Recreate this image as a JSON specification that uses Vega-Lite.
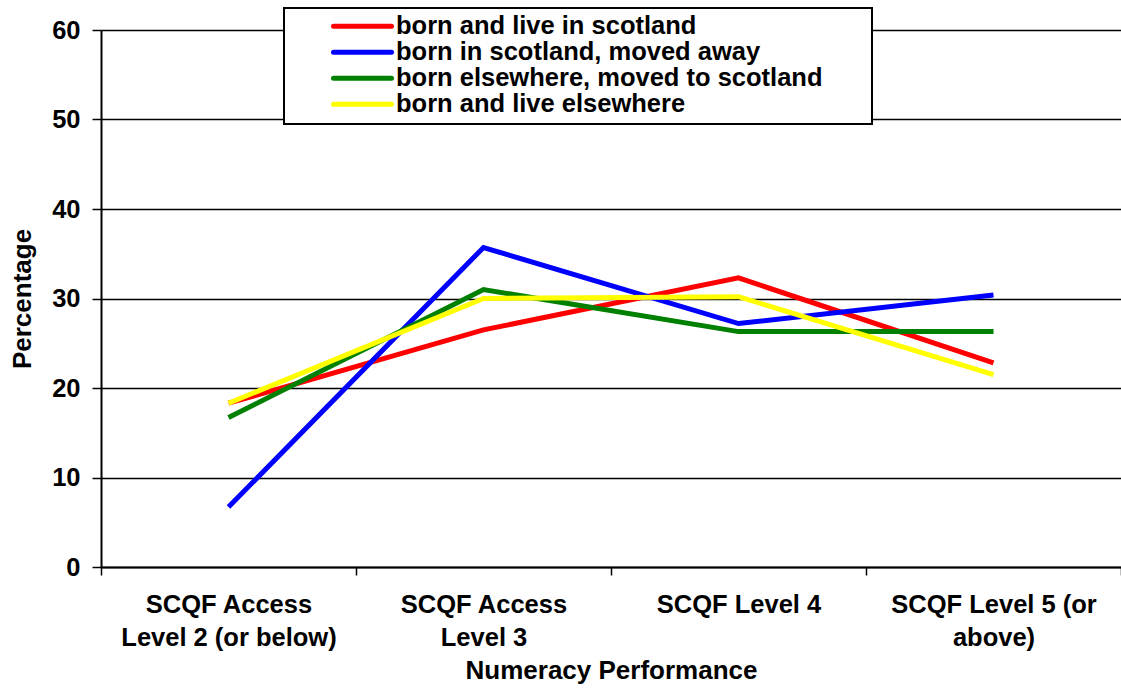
{
  "$schema": "https://vega.github.io/schema/vega-lite/v6.json",
  "width": 1020,
  "height": 537,
  "autosize": {"type": "none"},
  "padding": {"left": 101, "top": 30, "right": 0, "bottom": 121},
  "background": "white",
  "config": {
    "view": {"stroke": null},
    "font": "Liberation Sans",
    "axis": {"labelFont": "Liberation Sans", "titleFont": "Liberation Sans"}
  },
  "data": {
    "values": [
      {"level": "SCQF Access Level 2 (or below)", "group": "born and live in scotland", "pct": 18.3},
      {"level": "SCQF Access Level 3", "group": "born and live in scotland", "pct": 26.5},
      {"level": "SCQF Level 4", "group": "born and live in scotland", "pct": 32.3},
      {"level": "SCQF Level 5 (or above)", "group": "born and live in scotland", "pct": 22.8},
      {"level": "SCQF Access Level 2 (or below)", "group": "born in scotland, moved away", "pct": 6.7},
      {"level": "SCQF Access Level 3", "group": "born in scotland, moved away", "pct": 35.7},
      {"level": "SCQF Level 4", "group": "born in scotland, moved away", "pct": 27.2},
      {"level": "SCQF Level 5 (or above)", "group": "born in scotland, moved away", "pct": 30.4},
      {"level": "SCQF Access Level 2 (or below)", "group": "born elsewhere, moved to scotland", "pct": 16.7},
      {"level": "SCQF Access Level 3", "group": "born elsewhere, moved to scotland", "pct": 31.0},
      {"level": "SCQF Level 4", "group": "born elsewhere, moved to scotland", "pct": 26.3},
      {"level": "SCQF Level 5 (or above)", "group": "born elsewhere, moved to scotland", "pct": 26.3},
      {"level": "SCQF Access Level 2 (or below)", "group": "born and live elsewhere", "pct": 18.3},
      {"level": "SCQF Access Level 3", "group": "born and live elsewhere", "pct": 30.0},
      {"level": "SCQF Level 4", "group": "born and live elsewhere", "pct": 30.2},
      {"level": "SCQF Level 5 (or above)", "group": "born and live elsewhere", "pct": 21.5}
    ]
  },
  "mark": {"type": "line", "strokeWidth": 5},
  "encoding": {
    "x": {
      "field": "level",
      "type": "nominal",
      "sort": ["SCQF Access Level 2 (or below)", "SCQF Access Level 3", "SCQF Level 4", "SCQF Level 5 (or above)"],
      "scale": {"type": "band", "paddingInner": 0, "paddingOuter": 0},
      "axis": {
        "title": "Numeracy Performance",
        "titleFontSize": 26,
        "titleFontWeight": "bold",
        "titleColor": "black",
        "titlePadding": 6.5,
        "labelAngle": 0,
        "labelFontSize": 25.5,
        "labelFontWeight": "bold",
        "labelColor": "black",
        "labelPadding": 17,
        "labelLineHeight": 33.5,
        "labelLimit": 400,
        "labelExpr": "datum.value == 'SCQF Access Level 2 (or below)' ? ['SCQF Access', 'Level 2 (or below)'] : datum.value == 'SCQF Access Level 3' ? ['SCQF Access', 'Level 3'] : datum.value == 'SCQF Level 5 (or above)' ? ['SCQF Level 5 (or', 'above)'] : datum.value",
        "tickBand": "extent",
        "tickColor": "black",
        "tickSize": 8,
        "tickWidth": 1.5,
        "domainColor": "black",
        "domainWidth": 2,
        "grid": false
      }
    },
    "y": {
      "field": "pct",
      "type": "quantitative",
      "scale": {"domain": [0, 60], "nice": false},
      "axis": {
        "title": "Percentage",
        "titleFontSize": 26,
        "titleFontWeight": "bold",
        "titleColor": "black",
        "titlePadding": 16,
        "values": [0, 10, 20, 30, 40, 50, 60],
        "labelFontSize": 25.5,
        "labelFontWeight": "bold",
        "labelColor": "black",
        "labelPadding": 12,
        "tickColor": "black",
        "tickSize": 9,
        "tickWidth": 1.5,
        "domainColor": "black",
        "domainWidth": 2,
        "grid": true,
        "gridColor": "black",
        "gridWidth": 1.5,
        "gridOpacity": 1
      }
    },
    "color": {
      "field": "group",
      "type": "nominal",
      "sort": ["born and live in scotland", "born in scotland, moved away", "born elsewhere, moved to scotland", "born and live elsewhere"],
      "scale": {
        "domain": ["born and live in scotland", "born in scotland, moved away", "born elsewhere, moved to scotland", "born and live elsewhere"],
        "range": ["#FF0000", "#0000FF", "#008000", "#FFFF00"]
      },
      "legend": {
        "orient": "none",
        "legendX": 183,
        "legendY": -22,
        "title": "MM",
        "titleOrient": "right",
        "titleFontSize": 21,
        "titleColor": "white",
        "titlePadding": 8,
        "fillColor": "white",
        "strokeColor": "black",
        "padding": 6,
        "symbolOffset": 59.75,
        "symbolType": "M-2.9,0H2.9",
        "symbolStrokeWidth": 5,
        "symbolSize": 400,
        "labelOffset": 20.75,
        "labelFontSize": 25.5,
        "labelFontWeight": "bold",
        "labelColor": "black",
        "labelFont": "Liberation Sans",
        "clipHeight": 24.4,
        "rowPadding": 0.01,
        "labelLimit": 600,
        "encode": {
          "legend": {"update": {"strokeWidth": {"value": 2}}},
          "symbols": {"update": {"strokeCap": {"value": "round"}}}
        }
      }
    }
  }
}
